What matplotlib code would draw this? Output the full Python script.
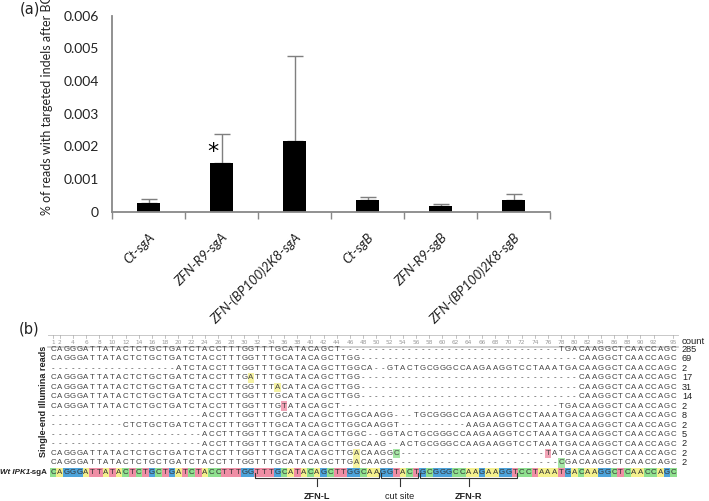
import numpy as np
import matplotlib.pyplot as plt
from matplotlib.patches import Rectangle

# ---- panel (a) data ----
categories = ['Ct-sgA', 'ZFN-R9-sgA', 'ZFN-(BP100)2K8-sgA',
              'Ct-sgB', 'ZFN-R9-sgB', 'ZFN-(BP100)2K8-sgB']
values = [0.00027, 0.00149, 0.00215, 0.00036, 0.00018, 0.00035]
err_up = [0.00013, 0.00089, 0.00263, 0.00010, 0.00006, 0.00020]
yticks = [0, 0.001, 0.002, 0.003, 0.004, 0.005, 0.006]
ytick_labels = ['0', '0.001', '0.002', '0.003', '0.004', '0.005', '0.006']

# ---- panel (b) data ----
wt_seq = "CAGGGATTATACTCTGCTGATCTACCTTTGGTTTGCATACAGCTTGGCAAGGTACTGCGGGCCAAGAAGGTCCTAAATGACAAGGCTCAACCAGC"
reads = [
    "CAGGGATTATACTCTGCTGATCTACCTTTGGTTTGCATACAGCT" + "-" * 33 + "TGACAAGGCTCAACCAGC",
    "CAGGGATTATACTCTGCTGATCTACCTTTGGTTTGCATACAGCTTGG" + "-" * 33 + "CAAGGCTCAACCAGC",
    "-" * 19 + "ATCTACCTTTGGTTTGCATACAGCTTGGCA" + "--" + "GTACTGCGGGCCAAGAAGGTCCTAAATGACAAGGCTCAACCAGC",
    "CAGGGATTATACTCTGCTGATCTACCTTTGATTTGCATACAGCTTGG" + "-" * 33 + "CAAGGCTCAACCAGC",
    "CAGGGATTATACTCTGCTGATCTACCTTTGGTTTACATACAGCTTGG" + "-" * 33 + "CAAGGCTCAACCAGC",
    "CAGGGATTATACTCTGCTGATCTACCTTTGGTTTGCATACAGCTTGG" + "-" * 33 + "CAAGGCTCAACCAGC",
    "CAGGGATTATACTCTGCTGATCTACCTTTGGTTTGTATACAGCT" + "-" * 33 + "TGACAAGGCTCAACCAGC",
    "-" * 23 + "ACCTTTGGTTTGCATACAGCTTGGCAAGG" + "---" + "TGCGGGCCAAGAAGGTCCTAAATGACAAGGCTCAACCAGC",
    "-" * 11 + "CTCTGCTGATCTACCTTTGGTTTGCATACAGCTTGGCAAGGT" + "-" * 10 + "AAGAAGGTCCTAAATGACAAGGCTCAACCAGC",
    "-" * 23 + "ACCTTTGGTTTGCATACAGCTTGGC" + "--" + "GGTACTGCGGGCCAAGAAGGTCCTAAATGACAAGGCTCAACCAGC",
    "-" * 23 + "ACCTTTGGTTTGCATACAGCTTGGCAAG" + "--" + "ACTGCGGGCCAAGAAGGTCCTAAATGACAAGGCTCAACCAGC",
    "CAGGGATTATACTCTGCTGATCTACCTTTGGTTTGCATACAGCTTGACAAGGC" + "-" * 22 + "TATGACAAGGCTCAACCAGC",
    "CAGGGATTATACTCTGCTGATCTACCTTTGGTTTGCATACAGCTTGACAAGG" + "-" * 25 + "CGACAAGGCTCAACCAGC",
]
counts = [285, 69, 2, 17, 31, 14, 2, 8, 2, 5, 2, 2, 2]
ruler_labels = [1] + list(range(2, 93, 2)) + [95]
# (label, first column, last column)
regions = [('ZFN-L', 32, 50), ('cut site', 51, 56), ('ZFN-R', 57, 71)]

base_colors = {'A': '#f4f08c', 'C': '#8fe08f', 'G': '#4da3da', 'T': '#ef8ea5'}

fig = plt.figure(figsize=(7.09, 5.01), dpi=100)

# ================= (a) bar chart =================
ax = fig.add_axes([112 / 709, 1 - 211.7 / 501, 438 / 709, 196 / 501])
x = np.arange(len(categories))
ax.bar(x, values, width=0.32, color='black', zorder=2)
ax.errorbar(x, values, yerr=[np.zeros(len(values)), err_up], fmt='none',
            ecolor='#7f7f7f', elinewidth=1, capsize=5.5, capthick=1, zorder=1)
ax.set_xlim(-0.5, len(categories) - 0.5)
ax.set_ylim(0, 0.006)
ax.set_yticks(yticks)
ax.set_yticklabels(ytick_labels, fontfamily='Lato', fontsize=10, color='#222')
ax.tick_params(axis='y', length=0, pad=9.5)
ax.set_xticks(np.arange(-0.5, len(categories), 1))
ax.set_xticklabels([])
ax.set_xticks(x, minor=True)
ax.set_xticklabels(categories, minor=True, rotation=45, ha='right',
                   rotation_mode='anchor', fontstyle='italic',
                   fontfamily='Lato', fontsize=9.5, color='#222')
ax.tick_params(axis='x', which='major', direction='out', length=5,
               color='#888', width=1)
ax.tick_params(axis='x', which='minor', length=0, pad=14)
for s in ['top', 'right']:
    ax.spines[s].set_visible(False)
for s in ['left', 'bottom']:
    ax.spines[s].set_color('#888')
    ax.spines[s].set_linewidth(1.3)
ax.text(0.88, 0.00183, '*', ha='center', va='center', fontsize=16)

fig.text(47 / 709, 1 - 215 / 501, '% of reads with targeted indels after BC',
         rotation=90, ha='center', va='bottom', fontfamily='Lato',
         fontsize=9, color='#222')
fig.text(20 / 709, 1 - 9 / 501, '(a)', ha='left', va='center',
         fontsize=10.5, color='#222')
fig.text(19 / 709, 1 - 329 / 501, '(b)', ha='left', va='center',
         fontsize=10.5, color='#222')

# ================= (b) alignment =================
X0, DX = 53.0, 6.6      # pixel x of column 1, column pitch
Y0, DY = 349.5, 9.45    # pixel y of row 1, row pitch
ax2 = fig.add_axes([0, 0, 1, 1], zorder=-1)
ax2.set_xlim(1 - X0 / DX, 1 + (709 - X0) / DX)
ax2.set_ylim(1 + (501 - Y0) / DY, 1 - Y0 / DY)
ax2.axis('off')

seq_font = dict(fontfamily='Liberation Sans', fontsize=5.7, ha='center', va='center')
n_rows = len(reads) + 1

for r, s in enumerate(reads, start=1):
    for c, b in enumerate(s, start=1):
        if b != '-' and b != wt_seq[c - 1]:
            ax2.add_patch(Rectangle((c - 0.5, r - 0.5), 1, 1,
                                    color=base_colors[b], lw=0, alpha=0.8))
        ax2.text(c, r, b, color='#444', **seq_font)
    ax2.text(96.3, r, str(counts[r - 1]), fontfamily='Liberation Sans',
             fontsize=6.6, ha='left', va='center', color='#222')

for c, b in enumerate(wt_seq, start=1):
    ax2.add_patch(Rectangle((c - 0.5, n_rows - 0.5), 1, 1,
                            color=base_colors[b], lw=0))
    ax2.text(c, n_rows, b, color='#333', **seq_font)

# ruler
y_top, y_bot = 1 + (335 - Y0) / DY, 1 + (346.5 - Y0) / DY
ax2.plot([0.3, 95.7], [y_top, y_top], color='#c8c8c8', lw=0.7)
ax2.plot([0.3, 95.7], [y_bot, y_bot], color='#c8c8c8', lw=1.2)
for lab in ruler_labels:
    ax2.plot([lab, lab], [y_top, y_top + 0.35], color='#aaa', lw=0.5)
    ax2.text(lab, (y_top + y_bot) / 2 + 0.15, str(lab), ha='center',
             va='center', fontsize=4.2, color='#999')
ax2.text(96.3, (y_top + y_bot) / 2 + 0.1, 'count', ha='left', va='center',
         fontfamily='Liberation Sans', fontsize=6.8, color='#222')

# labels on the left
ax2.text(1 + (44 - X0) / DX, 6.5, 'Single-end Illumina reads', rotation=90,
         ha='center', va='center', fontweight='bold', fontsize=6.6,
         fontfamily='Liberation Sans', color='#222')
t1 = ax2.text(0.2, n_rows, '-sgA', ha='right', va='center', fontweight='bold',
              fontsize=5.8, fontfamily='Liberation Sans', color='#222')
ax2.annotate('Wt IPK1', xy=(0, 0.5), xycoords=t1, ha='right', va='center',
             fontweight='bold', fontstyle='italic', fontsize=5.8,
             fontfamily='Liberation Sans', color='#222')

# brackets
yb = n_rows + (478 - (Y0 + (n_rows - 1) * DY)) / DY
for name, c0, c1 in regions:
    left, right = c0 - 0.5 + 0.15, c1 + 0.5 - 0.15
    mid = (left + right) / 2
    ax2.plot([left, left, right, right], [yb - 0.55, yb, yb, yb - 0.55],
             color='#333', lw=0.8)
    ax2.plot([mid, mid], [yb, yb + 0.85], color='#333', lw=0.8)
    ax2.text(mid, yb + 1.95, name, ha='center', va='center', fontsize=6.6,
             fontfamily='Liberation Sans', color='#222',
             fontweight='normal' if name == 'cut site' else 'bold')

fig.savefig('out.png', dpi=100)
